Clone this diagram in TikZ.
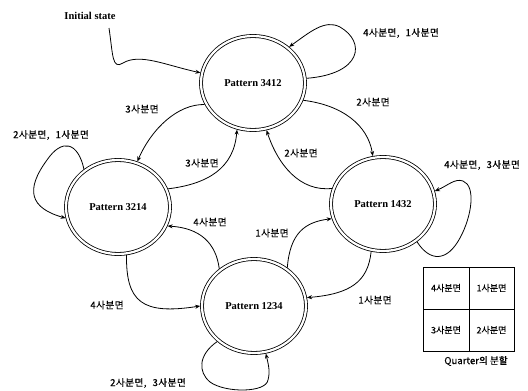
\documentclass[tikz,border=0pt]{standalone}
\usepackage{fontspec}
\setmainfont{Liberation Serif}
\newfontfamily\kr{Noto Sans CJK KR}[FakeBold=0.5,LetterSpace=5]
\newfontfamily\krc{Noto Sans CJK KR}[FakeBold=0.4]
\usetikzlibrary{shapes.geometric,arrows.meta}
\tikzset{
  state/.style={ellipse,draw,double,double distance=2.2pt,line width=0.8pt,
    minimum width=104pt,minimum height=94pt,inner sep=0pt,outer sep=1.8pt,
    font=\bfseries\fontsize{10.5}{12}\selectfont},
  lbl/.style={font=\kr\fontsize{9.6}{11}\selectfont,inner sep=1pt},
  cell/.style={font=\krc\fontsize{9}{11}\selectfont,inner sep=0pt},
  conn/.style={line width=0.8pt,-{Stealth[length=5pt,width=4pt]}}
}
\newcommand{\csp}{,\hspace{6pt}}
\begin{document}
\begin{tikzpicture}[x=1pt,y=-1pt]
\useasboundingbox (0,0) rectangle (528,391);
% states
\node[state] (p3412) at (253,83) {Pattern 3412};
\node[state] (p3214) at (118,207) {Pattern 3214};
\node[state] (p1432) at (383,204) {Pattern 1432};
\node[state] (p1234) at (254,306) {Pattern 1234};
% initial
\node[font=\bfseries\fontsize{10.5}{12}\selectfont] (init) at (90,16) {Initial state};
\coordinate (istart) at (109,28);
\draw[conn] (istart) .. controls (113,55) and (112,70) .. (123,63)
  .. controls (140,53) and (165,65) .. (p3412.169);
% labels
\node[lbl] (l1) at (401,33) {4사분면\csp 1사분면};
\node[lbl] (l2) at (373,102) {2사분면};
\node[lbl] (l3) at (301,153) {2사분면};
\node[lbl] (l4) at (142,109) {3사분면};
\node[lbl] (l5) at (51,135) {2사분면\csp 1사분면};
\node[lbl] (l6) at (202,163) {3사분면};
\node[lbl] (l7) at (210,222) {4사분면};
\node[lbl] (l8) at (107,305) {4사분면};
\node[lbl] (l9) at (272,233) {1사분면};
\node[lbl] (l10) at (375,300) {1사분면};
\node[lbl] (l11) at (482,165) {4사분면\csp 3사분면};
\node[lbl] (l12) at (148,383) {2사분면\csp 3사분면};
% edges
\draw[conn] (p3412.5) .. controls (362,74) and (366,42) .. (340,27)
  .. controls (325,19) and (310,32) .. (p3412.45);
\draw[conn] (p3412.-19) .. controls (342,105) and (368,125) .. (p1432.102);
\draw[conn] (p1432.163) .. controls (300,192) and (278,165) .. (p3412.-74);
\draw[conn] (p3412.204) .. controls (178,104) and (152,128) .. (p3214.67);
\draw[conn] (p3214.20) .. controls (208,184) and (234,168) .. (p3412.251);
\draw[conn] (p3214.132) .. controls (78,142) and (62,138) .. (47,160)
  .. controls (25,190) and (30,208) .. (p3214.192);
\draw[conn] (p1234.133) .. controls (216,243) and (200,228) .. (p3214.339);
\draw[conn] (p3214.280) .. controls (126,302) and (142,315) .. (p1234.180);
\draw[conn] (p1234.49) .. controls (290,233) and (305,222) .. (p1432.196);
\draw[conn] (p1432.256) .. controls (368,282) and (350,294) .. (p1234.9);
\draw[conn] (p1432.312) .. controls (430,262) and (447,262) .. (460,238)
  .. controls (472,216) and (476,186) .. (463,181)
  .. controls (455,178) and (447,186) .. (p1432.14);
\draw[conn] (p1234.224) .. controls (198,355) and (198,372) .. (210,382)
  .. controls (225,393) and (266,393) .. (268,380)
  .. controls (270,372) and (269,367) .. (p1234.284);
% quarter table
\draw[line width=0.9pt] (423,267) rectangle (514,351);
\draw[line width=0.9pt] (469,267) -- (469,351) (423,309) -- (514,309);
\node[cell] (q4) at (446,288) {4사분면};
\node[cell] (q1) at (491.5,288) {1사분면};
\node[cell] (q3) at (446,330) {3사분면};
\node[cell] (q2) at (491.5,330) {2사분면};
\node[font=\krc\fontsize{9.6}{11}\selectfont] (qcap) at (476,361) {Quarter의 분할};
\end{tikzpicture}
\end{document}
